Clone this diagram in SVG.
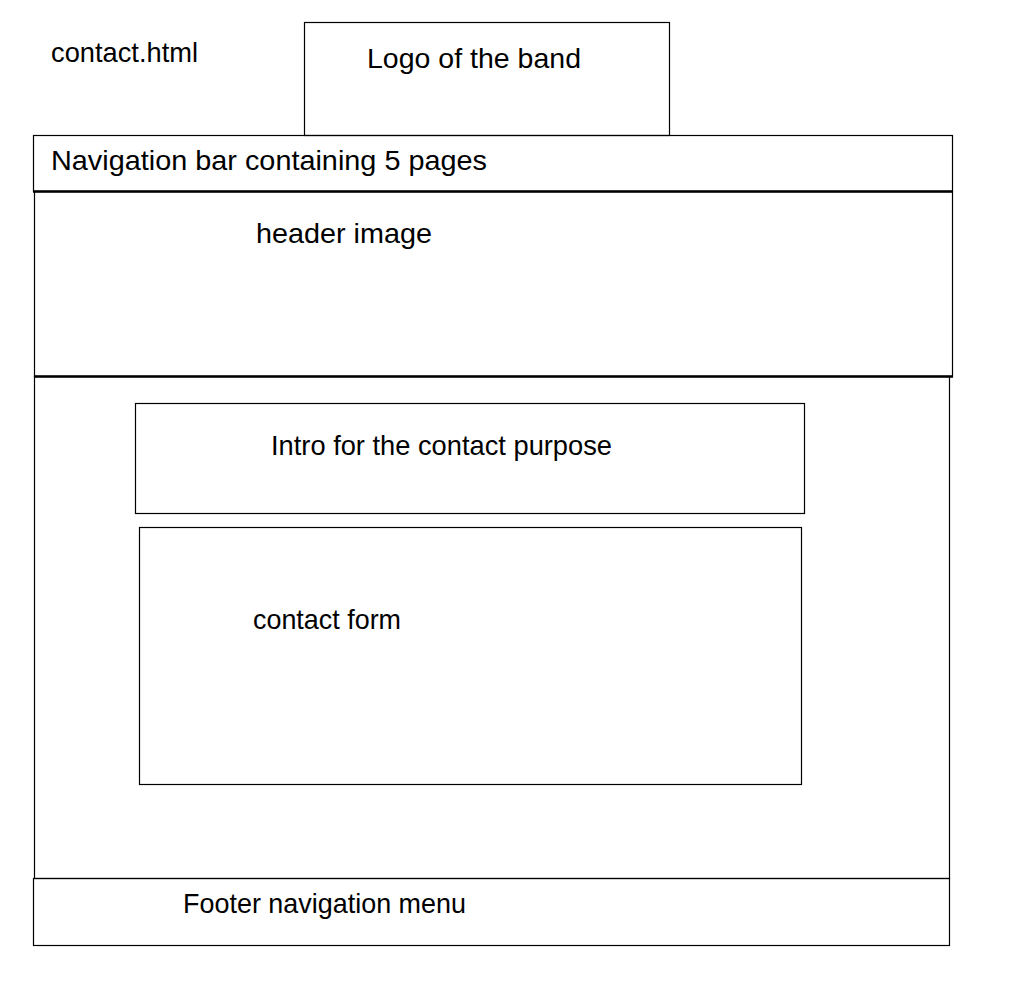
<svg xmlns="http://www.w3.org/2000/svg" width="1024" height="1001" viewBox="0 0 1024 1001">
  <style>
    .box { fill: none; stroke: #000; stroke-width: 1.2; }
    .rule { stroke: #000; stroke-width: 2.4; }
    .lbl { font-family: "Liberation Sans", Arial, sans-serif; font-size: 28px; fill: #000; }
  </style>
  <rect width="1024" height="1001" fill="#fff"/>

  <!-- page file name -->
  <g id="page-name">
    <text class="lbl" x="51" y="62" font-size="25" textLength="147" lengthAdjust="spacingAndGlyphs">contact.html</text>
  </g>

  <!-- band logo block -->
  <g id="logo">
    <rect class="box" x="304.5" y="22.5" width="365" height="113"/>
    <text class="lbl" x="367" y="68" textLength="214" lengthAdjust="spacingAndGlyphs">Logo of the band</text>
  </g>

  <!-- navigation bar -->
  <g id="nav-bar">
    <rect class="box" x="33.5" y="135.5" width="919" height="56"/>
    <text class="lbl" x="51" y="170" textLength="436" lengthAdjust="spacingAndGlyphs">Navigation bar containing 5 pages</text>
  </g>

  <!-- header image -->
  <g id="header-image">
    <rect class="box" x="34.5" y="191.5" width="918" height="185"/>
    <text class="lbl" x="256" y="243" textLength="176" lengthAdjust="spacingAndGlyphs">header image</text>
  </g>

  <!-- main content area -->
  <g id="main-content">
    <rect class="box" x="34.5" y="376.5" width="915" height="502"/>
  </g>

  <g id="intro">
    <rect class="box" x="135.5" y="403.5" width="669" height="110"/>
    <text class="lbl" x="271" y="455" textLength="341" lengthAdjust="spacingAndGlyphs">Intro for the contact purpose</text>
  </g>

  <g id="contact-form">
    <rect class="box" x="139.5" y="527.5" width="662" height="257"/>
    <text class="lbl" x="253" y="629" textLength="148" lengthAdjust="spacingAndGlyphs">contact form</text>
  </g>

  <!-- footer -->
  <g id="footer">
    <rect class="box" x="33.5" y="878.5" width="916" height="67"/>
    <text class="lbl" x="183" y="913" textLength="283" lengthAdjust="spacingAndGlyphs">Footer navigation menu</text>
  </g>

  <!-- heavier dividing rules between stacked sections -->
  <g id="connectors">
    <line class="rule" x1="33" y1="191.5" x2="953" y2="191.5"/>
    <line class="rule" x1="34" y1="376.5" x2="953" y2="376.5"/>
  </g>
</svg>
